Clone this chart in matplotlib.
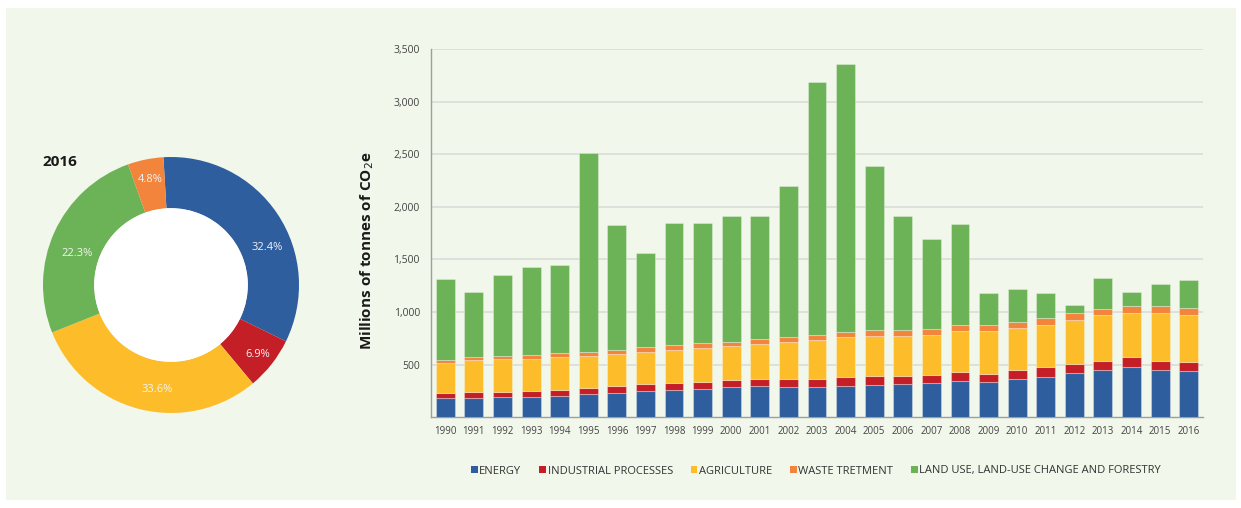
import numpy as np
import matplotlib
matplotlib.use("Agg")
import matplotlib.pyplot as plt
from matplotlib.patches import Rectangle, Circle, Patch

plt.rcParams['font.family'] = ['Open Sans', 'DejaVu Sans']

# ---------------- data ----------------
years = [str(y) for y in range(1990, 2017)]
energy = [187, 187, 193, 193, 206, 225, 235, 254, 263, 273, 285, 295, 285, 285, 295,
          304, 314, 323, 346, 333, 365, 387, 418, 453, 479, 453, 441]
industrial = [44, 54, 48, 57, 54, 54, 66, 66, 67, 66, 70, 70, 80, 80, 89,
              89, 79, 80, 85, 79, 88, 89, 86, 83, 95, 83, 85]
agriculture = [286, 304, 314, 305, 314, 304, 301, 301, 310, 320, 323, 332, 351, 370, 380,
               381, 381, 380, 390, 409, 397, 402, 422, 437, 418, 456, 447]
waste = [28, 29, 28, 38, 38, 38, 38, 45, 45, 45, 38, 45, 45, 45, 48,
         57, 57, 57, 57, 57, 60, 67, 66, 57, 67, 67, 67]
lulucf = [774, 621, 774, 834, 837, 1890, 1192, 891, 1160, 1141, 1196, 1170, 1439, 2403, 2545,
          1559, 1081, 853, 958, 301, 307, 234, 79, 295, 127, 212, 266]

series_names = ['ENERGY', 'INDUSTRIAL PROCESSES', 'AGRICULTURE', 'WASTE TRETMENT',
                'LAND USE, LAND-USE CHANGE AND FORESTRY']
series_colors = ['#2E5E9E', '#C41F26', '#FDBD2A', '#F3843C', '#6CB256']

# 2016 donut: printed percentages, and the wedge shares as drawn in the picture
pie_names = ['ENERGY', 'INDUSTRIAL PROCESSES', 'AGRICULTURE',
             'LAND USE, LAND-USE CHANGE AND FORESTRY', 'WASTE TRETMENT']
pie_values = [32.4, 6.9, 33.6, 22.3, 4.8]
pie_shares = [33.2, 6.7, 30.0, 25.6, 4.5]
pie_colors = ['#2E5E9E', '#C41F26', '#FDBD2A', '#6CB256', '#F3843C']
pie_year = '2016'

yticks = [500, 1000, 1500, 2000, 2500, 3000, 3500]

# ---------------- figure ----------------
W, H = 1241, 508
fig = plt.figure(figsize=(W / 100, H / 100), dpi=100)
fig.patch.set_facecolor('white')

panel_color = '#F1F7EA'
fig.patches.append(Rectangle((6 / W, 1 - 500 / H), 1230 / W, 492 / H,
                             transform=fig.transFigure, facecolor=panel_color,
                             edgecolor='none', zorder=-10))

# ---------------- bar chart ----------------
ax = fig.add_axes([431 / W, 1 - 417.3 / H, 772 / W, (417.3 - 49) / H])
ax.set_facecolor('none')
x = np.arange(len(years))
bottom = np.zeros(len(years))
for vals, name, col in zip([energy, industrial, agriculture, waste, lulucf],
                           series_names, series_colors):
    ax.bar(x, vals, width=0.66, bottom=bottom, color=col, label=name,
           edgecolor=(1, 1, 1, 0.3), linewidth=0.8, zorder=3)
    bottom += np.array(vals)

ax.set_xlim(-0.5, len(years) - 0.5)
ax.set_ylim(0, 3500)
ax.set_yticks(yticks)
ax.set_yticklabels([f'{v:,}' for v in yticks])
ax.set_xticks(x)
ax.set_xticklabels(years)
ax.tick_params(axis='y', length=0, labelsize=7.5, labelcolor='#444444', pad=8)
ax.tick_params(axis='x', length=0, labelsize=7, labelcolor='#444444', pad=6)
ax.grid(axis='y', color='#D9D9D9', linewidth=1.1, zorder=0)
for s in ['top', 'right']:
    ax.spines[s].set_visible(False)
for s in ['left', 'bottom']:
    ax.spines[s].set_color('#9E9E9E')
    ax.spines[s].set_linewidth(1.0)

fig.text(367 / W, 1 - 251 / H, 'Millions of tonnes of CO$_2$e', rotation=90,
         ha='center', va='center', fontsize=11, fontweight='bold', color='#1a1a1a')

handles = [Patch(facecolor=c, edgecolor='none') for c in series_colors]
fig.legend(handles, series_names, loc='center', bbox_to_anchor=(816 / W, 1 - 471 / H),
           ncol=5, frameon=False, fontsize=8, handlelength=0.6, handleheight=0.6,
           handletextpad=0.15, columnspacing=1.6, labelcolor='#333333')

# ---------------- donut ----------------
R = 128
pax = fig.add_axes([(171 - R) / W, 1 - (285 + R) / H, 2 * R / W, 2 * R / H])
wedges, _ = pax.pie(pie_shares, colors=pie_colors, startangle=93.4, counterclock=False,
                    radius=1.0, wedgeprops=dict(width=0.4, edgecolor='none'))
pax.add_patch(Circle((0, 0), 0.6, facecolor='white', edgecolor='none', zorder=5))
pax.set_xlim(-1, 1)
pax.set_ylim(-1, 1)
pax.set_aspect('equal')
pax.axis('off')

# percentage labels (placement as in the original chart)
label_pos = [(21.4, 0.81), (-38.8, 0.87), (-97.6, 0.82), (161.6, 0.77), (101.0, 0.84)]
for v, (ang, rr) in zip(pie_values, label_pos):
    a = np.deg2rad(ang)
    pax.text(rr * np.cos(a), rr * np.sin(a), f'{v:.1f}%', ha='center', va='center',
             fontsize=8, color='#F4F4F4', zorder=6)

fig.text(42 / W, 1 - 162 / H, pie_year, ha='left', va='center', fontsize=11,
         fontweight='bold', color='#1a1a1a')

fig.savefig('out.png', dpi=100, facecolor='white')
